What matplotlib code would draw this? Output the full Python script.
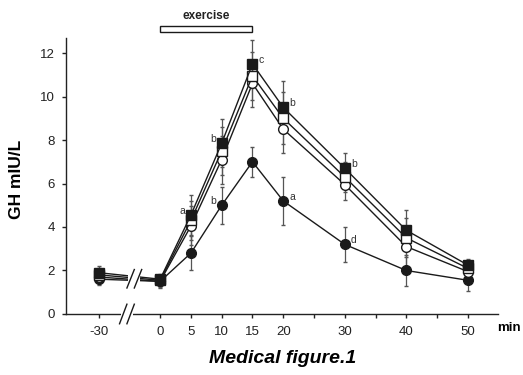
import numpy as np
import matplotlib.pyplot as plt
from matplotlib.patches import Rectangle

plt.rcParams['font.family'] = ['Liberation Sans', 'DejaVu Sans']

# time points (min); -30 is drawn on a broken axis at position -10
times = [-30, 0, 5, 10, 15, 20, 30, 40, 50]
xpos = [-10, 0, 5, 10, 15, 20, 30, 40, 50]

sq_filled = [1.9, 1.6, 4.55, 7.85, 11.5, 9.5, 6.7, 3.85, 2.25]
sq_filled_err = [0.3, 0.25, 0.9, 1.1, 1.1, 1.2, 0.7, 0.95, 0.3]
sq_open = [1.8, 1.55, 4.3, 7.5, 10.95, 9.0, 6.3, 3.5, 2.1]
sq_open_err = [0.3, 0.25, 0.9, 1.1, 1.1, 1.2, 0.7, 0.9, 0.3]
ci_open = [1.7, 1.5, 4.05, 7.1, 10.6, 8.5, 5.95, 3.1, 1.95]
ci_open_err = [0.3, 0.25, 0.9, 1.1, 1.1, 1.1, 0.7, 0.9, 0.3]
ci_filled = [1.6, 1.5, 2.8, 5.0, 7.0, 5.2, 3.2, 2.0, 1.55]
ci_filled_err = [0.25, 0.3, 0.8, 0.85, 0.7, 1.1, 0.8, 0.7, 0.5]

xticks = [-10, 0, 5, 10, 15, 20, 30, 40, 50]
xticklabels = ['-30', '0', '5', '10', '15', '20', '30', '40', '50']
xminor = [25, 35, 45]

# significance letters: (x, y, text, side)
letters = [(5, 4.55, 'a', 'left'), (10, 7.85, 'b', 'left'), (15, 11.5, 'c', 'right'),
           (20, 9.5, 'b', 'right'), (30, 6.7, 'b', 'right'),
           (10, 5.0, 'b', 'left'), (20, 5.2, 'a', 'right'), (30, 3.2, 'd', 'right')]

fig = plt.figure(figsize=(5.23, 3.75), dpi=100)
ax = fig.add_axes([0.1262, 0.1627, 0.826, 0.7365])

ink = '#1a1a1a'
series = [
    (ci_filled, ci_filled_err, 'o', ink),
    (ci_open, ci_open_err, 'o', 'white'),
    (sq_open, sq_open_err, 's', 'white'),
    (sq_filled, sq_filled_err, 's', ink),
]
for vals, err, mk, fc in series:
    ax.errorbar(xpos, vals, yerr=err, color=ink, lw=1.0, marker=mk, ms=7,
                mfc=fc, mec=ink, mew=1.0, ecolor='#555555', elinewidth=0.9,
                capsize=1.5, capthick=0.9, zorder=3)

for x, y, t, side in letters:
    dx = -1.0 if side == 'left' else 1.0
    ax.text(x + dx, y + 0.2, t, fontsize=7.5, color='#333333',
            ha='right' if side == 'left' else 'left', va='center', zorder=4)

ax.set_xlim(-15.3, 54.9)
ax.set_ylim(0, 12.7)
ax.set_xticks(xticks)
ax.set_xticklabels(xticklabels)
ax.set_xticks(xminor, minor=True)
ax.set_yticks(range(0, 13, 2))
ax.tick_params(axis='both', labelsize=9.5, colors='#222222', direction='out',
               length=3, width=1)
ax.tick_params(axis='x', which='minor', length=3, width=1, color='#222222')
ax.tick_params(axis='x', pad=6)
ax.tick_params(axis='y', pad=5)
for s in ['top', 'right']:
    ax.spines[s].set_visible(False)
for s in ['left', 'bottom']:
    ax.spines[s].set_color('#222222')
    ax.spines[s].set_linewidth(1.0)

# axis break marks
def brk(xc, yc, h):
    ax.add_patch(Rectangle((xc - 1.0, yc - h * 0.5), 2.0, h, color='white',
                           zorder=5, clip_on=False, lw=0))
    for off in (-0.6, 0.6):
        ax.plot([xc + off - 0.6, xc + off + 0.6], [yc - h * 0.5, yc + h * 0.5],
                color=ink, lw=1.0, zorder=6, clip_on=False)

brk(-5.4, 0.0, 0.9)
brk(-4.2, 1.62, 0.85)

# exercise bar
ax.add_patch(Rectangle((0, 12.95), 15, 0.27, fill=False, ec=ink, lw=1.0,
                       clip_on=False))
ax.text(7.5, 13.7, 'exercise', fontsize=8.5, fontweight='bold', ha='center',
        va='center', color='#222222')

fig.text(0.032, 0.521, 'GH mIU/L', rotation=90, fontsize=12.5, fontweight='bold',
         ha='center', va='center')
fig.text(0.951, 0.125, 'min', fontsize=9.5, fontweight='bold', ha='left',
         va='center')
fig.text(0.541, 0.045, 'Medical figure.1', fontsize=14, fontweight='bold',
         fontstyle='italic', ha='center', va='center')

fig.savefig('out.png', dpi=100)
